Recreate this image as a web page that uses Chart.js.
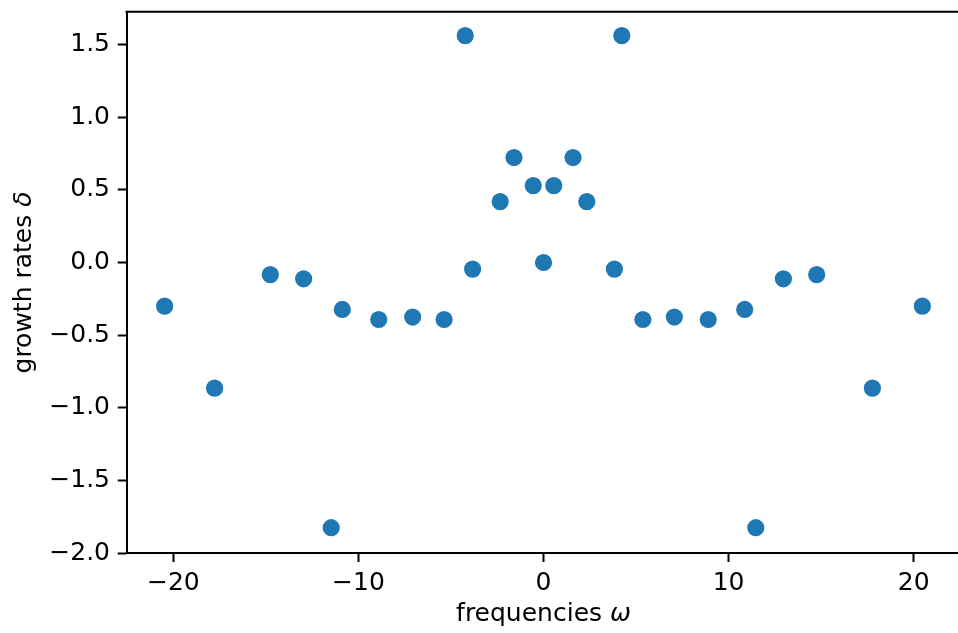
<!DOCTYPE html>
<html>
<head>
<meta charset="utf-8">
<script src="https://cdn.jsdelivr.net/npm/chart.js@4/dist/chart.umd.min.js"></script>
<style>
  html, body { margin: 0; padding: 0; background: #fff; overflow: hidden; }
  #wrap { width: 958px; height: 633px; overflow: hidden; }
  #myScatter { display: block; width: 962px; height: 633px; }
</style>
</head>
<body>
<div id="wrap"><canvas id="myScatter" width="962" height="633"></canvas></div>
<script>
// frequencies (omega) and growth rates (delta)
const freqs = [-20.47, -17.77, -14.76, -12.96, -11.47, -10.87, -8.9, -7.07, -5.37, -4.23, -3.83, -2.34, -1.595, -0.555, 0,
               0.555, 1.595, 2.34, 3.83, 4.23, 5.37, 7.07, 8.9, 10.87, 11.47, 12.96, 14.76, 17.77, 20.47];
const rates = [-0.30, -0.864, -0.083, -0.112, -1.824, -0.323, -0.392, -0.375, -0.392, 1.561, -0.045, 0.419, 0.722, 0.529, 0,
               0.529, 0.722, 0.419, -0.045, 1.561, -0.392, -0.375, -0.392, -0.323, -1.824, -0.112, -0.083, -0.864, -0.30];
const xTicks = [-20, -10, 0, 10, 20];
const yTicks = [-2.0, -1.5, -1.0, -0.5, 0.0, 0.5, 1.0, 1.5];
const xLimits = [-22.53, 22.53];
const yLimits = [-2.0, 1.725];
const xLabel = ['frequencies ', '\u03c9'];   // plain part, italic math symbol
const yLabel = ['growth rates ', '\u03b4'];

const points = freqs.map((f, i) => ({x: f, y: rates[i]}));
const minus = s => s.replace('-', '\u2212');
const family = "'DejaVu Sans', sans-serif";
const font = {family: family, size: 25};

// no auto padding from the tick labels, the frame is fixed
function noPad(axis) {
  axis.paddingTop = 0;
  axis.paddingBottom = 0;
  axis.paddingLeft = 0;
  axis.paddingRight = 0;
}

// label with an italic greek letter at the end, centred on (0,0)
function mathLabel(ctx, parts) {
  ctx.font = '25px ' + family;
  const w1 = ctx.measureText(parts[0]).width;
  ctx.font = 'italic 25px ' + family;
  const w2 = ctx.measureText(parts[1]).width;
  const x0 = -(w1 + w2) / 2;
  ctx.textAlign = 'left';
  ctx.textBaseline = 'middle';
  ctx.fillStyle = '#000';
  ctx.font = '25px ' + family;
  ctx.fillText(parts[0], x0, 0);
  ctx.font = 'italic 25px ' + family;
  ctx.fillText(parts[1], x0 + w1, 0);
}

// top/right spines and the axis labels
const frame = {
  id: 'frame',
  afterDraw(chart) {
    const a = chart.chartArea, ctx = chart.ctx;
    ctx.save();
    ctx.strokeStyle = '#000';
    ctx.lineWidth = 2;
    ctx.beginPath();
    ctx.moveTo(a.left - 1, a.top);
    ctx.lineTo(a.right, a.top);
    ctx.lineTo(a.right, a.bottom);
    ctx.stroke();

    ctx.save();
    ctx.translate((a.left + a.right) / 2, chart.height - 19);
    mathLabel(ctx, xLabel);
    ctx.restore();

    ctx.save();
    ctx.translate(24, (a.top + a.bottom) / 2);
    ctx.rotate(-Math.PI / 2);
    mathLabel(ctx, yLabel);
    ctx.restore();
    ctx.restore();
  }
};

new Chart(document.getElementById('myScatter'), {
  type: 'scatter',
  data: {
    datasets: [{
      data: points,
      backgroundColor: '#1f77b4',
      borderWidth: 0,
      pointRadius: 8.6,
      pointHoverRadius: 8.6
    }]
  },
  options: {
    responsive: false,
    animation: false,
    events: [],
    layout: {autoPadding: false, padding: {top: 11.7, right: 1.5, bottom: 0, left: 0}},
    plugins: {legend: {display: false}, tooltip: {enabled: false}},
    scales: {
      x: {
        type: 'linear',
        min: xLimits[0],
        max: xLimits[1],
        afterBuildTicks: axis => { axis.ticks = xTicks.map(v => ({value: v})); },
        afterFit: axis => { axis.height = 79.7; noPad(axis); },
        grid: {drawOnChartArea: false, drawTicks: true, tickLength: 8.75, tickWidth: 2, tickColor: '#000'},
        border: {display: true, color: '#000', width: 2},
        ticks: {color: '#000', font: font, padding: 6, maxRotation: 0,
                callback: v => minus(String(v))}
      },
      y: {
        type: 'linear',
        min: yLimits[0],
        max: yLimits[1],
        afterBuildTicks: axis => { axis.ticks = yTicks.map(v => ({value: v})); },
        afterFit: axis => { axis.width = 126.5; noPad(axis); },
        grid: {drawOnChartArea: false, drawTicks: true, tickLength: 8.75, tickWidth: 2, tickColor: '#000'},
        border: {display: true, color: '#000', width: 2},
        ticks: {color: '#000', font: font, padding: 7.75,
                callback: v => minus(v.toFixed(1))}
      }
    }
  },
  plugins: [frame]
});
</script>
</body>
</html>
